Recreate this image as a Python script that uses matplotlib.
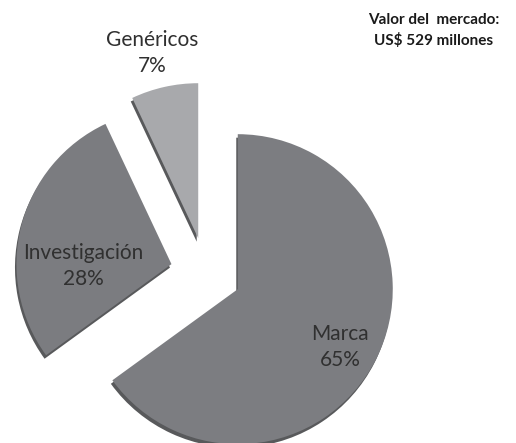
import matplotlib
matplotlib.use("Agg")
import matplotlib.pyplot as plt

categories = ["Marca", "Investigación", "Genéricos"]
shares = [65, 28, 7]
colors = ["#7c7d81", "#7b7c80", "#a8a9ac"]
shadow_color = "#58595b"
title_lines = ["Valor del  mercado:", "US$ 529 millones"]

W, H = 516, 443
fig = plt.figure(figsize=(W / 100, H / 100), dpi=100)
ax = fig.add_axes([0, 0, 1, 1])

center = (206, -273)
radius = 155
explode_frac = [0.23, 0.23, 0.23]
explode = [e * radius for e in explode_frac]

# 3D-like side band (shadow)
ax.pie(shares, colors=[shadow_color] * 3, startangle=90, counterclock=False,
       center=(center[0] - 1.5, center[1] - 3.5), radius=radius, explode=explode,
       wedgeprops=dict(linewidth=0), frame=True)
wedges, _ = ax.pie(shares, colors=colors, startangle=90, counterclock=False,
                   center=center, radius=radius, explode=explode,
                   wedgeprops=dict(linewidth=0), frame=True)

font = "Lato"
label_pos = {"Marca": (340, -347), "Investigación": (83, -266), "Genéricos": (152, -53)}
for cat, val in zip(categories, shares):
    x, y = label_pos[cat]
    ax.text(x, y, f"{cat}\n{val}%", ha="center", va="center", fontsize=15,
            color="#303030", family=font, linespacing=1.35)

ax.text(434, -30, "\n".join(title_lines), ha="center", va="center", fontsize=11,
        fontweight="bold", color="#1a1a1a", family=font, linespacing=1.5)

ax.set_xlim(0, W)
ax.set_ylim(-H, 0)
ax.set_aspect("equal")
ax.axis("off")
fig.savefig("out.png", dpi=100)
